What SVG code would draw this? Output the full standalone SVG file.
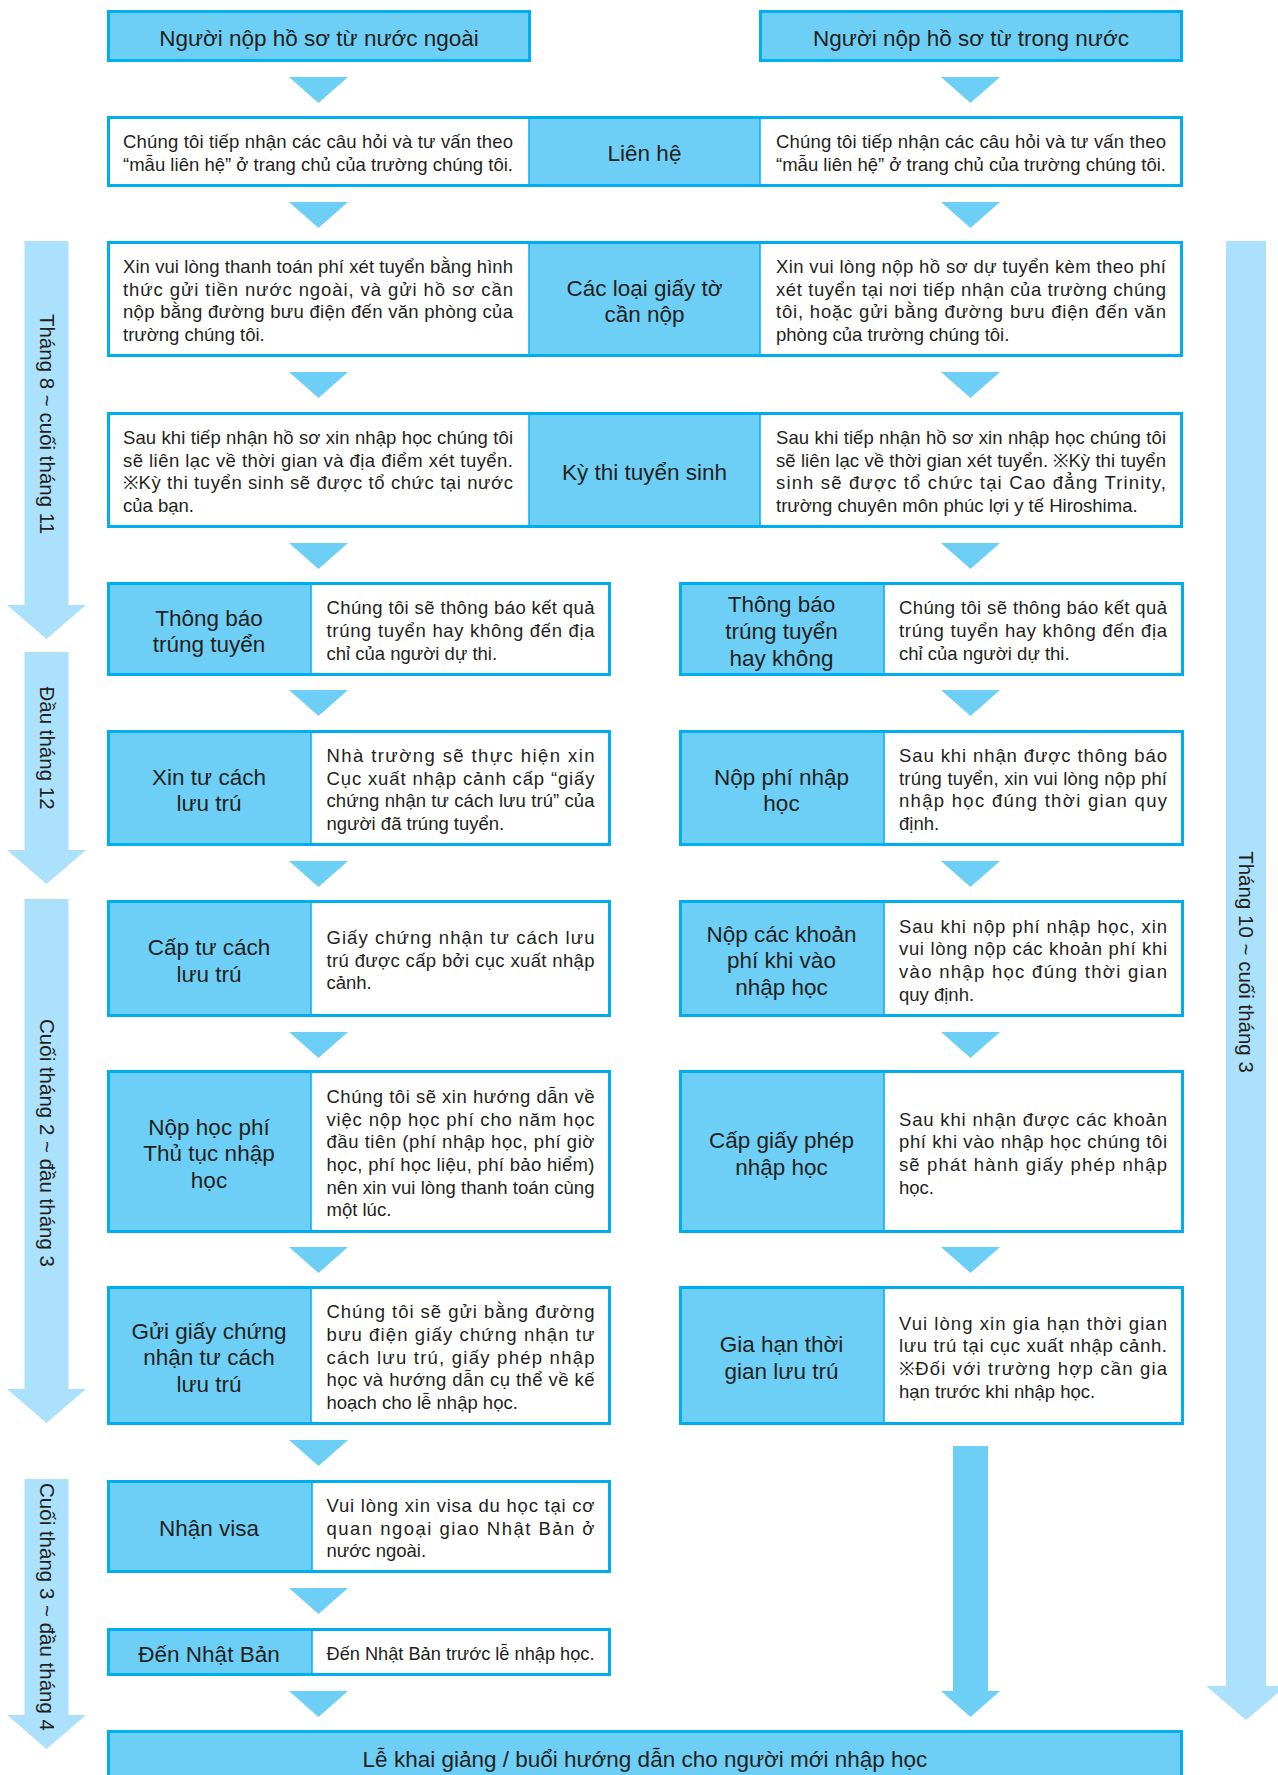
<svg xmlns="http://www.w3.org/2000/svg" xmlns:xlink="http://www.w3.org/1999/xlink" width="1278" height="1775" viewBox="0 0 1278 1775">
<style>
.bd{fill:none;stroke:#00aeef;stroke-width:3}
.wh{fill:#ffffff}
.bl{fill:#6dcff6}
.dv{stroke:#00aeef;stroke-width:1.5}
.lt{fill:#abe1fa}
.tri{fill:#6dcff6}
text{font-family:"Liberation Sans",Arial,sans-serif;fill:#231f20}
.b{font-size:18.5px;transform:translate(0px,1px)}
.l{font-size:22.5px;text-anchor:middle;transform:translate(0px,1.5px)}
.v{font-size:20.5px;text-anchor:middle}
</style>
<defs>
<path id="tri" d="M-29.5,0 L29.5,0 L0,26 Z"/>
</defs>
<rect x="0" y="0" width="1278" height="1775" fill="#ffffff"/>

<g id="timeline">
<path class="lt" d="M24.5,241 H68.5 V605 H86 L46.5,639 L7,605 H24.5 Z"/>
<path class="lt" d="M24.5,652 H68.5 V850 H86 L46.5,884 L7,850 H24.5 Z"/>
<path class="lt" d="M24.5,899 H68.5 V1389 H86 L46.5,1423 L7,1389 H24.5 Z"/>
<path class="lt" d="M24.5,1479 H68.5 V1715 H86 L46.5,1749 L7,1715 H24.5 Z"/>
<path class="lt" d="M1226,241 H1266 V1686 H1286 L1246,1720 L1206,1686 H1226 Z"/>
<text class="v" transform="translate(46.5,424) rotate(90)" y="7">Tháng 8 ~ cuối tháng 11</text>
<text class="v" transform="translate(46.5,748) rotate(90)" y="7">Đầu tháng 12</text>
<text class="v" transform="translate(46.5,1143) rotate(90)" y="7">Cuối tháng 2 ~ đầu tháng 3</text>
<text class="v" transform="translate(46.5,1607) rotate(90)" y="7">Cuối tháng 3 ~ đầu tháng 4</text>
<text class="v" transform="translate(1246,962) rotate(90)" y="7">Tháng 10 ~ cuối tháng 3</text>
</g>

<g id="connectors" class="tri">
<use xlink:href="#tri" x="318.5" y="77"/>
<use xlink:href="#tri" x="318.5" y="202"/>
<use xlink:href="#tri" x="318.5" y="372"/>
<use xlink:href="#tri" x="318.5" y="543"/>
<use xlink:href="#tri" x="318.5" y="690"/>
<use xlink:href="#tri" x="318.5" y="861"/>
<use xlink:href="#tri" x="318.5" y="1032"/>
<use xlink:href="#tri" x="318.5" y="1247"/>
<use xlink:href="#tri" x="318.5" y="1440"/>
<use xlink:href="#tri" x="318.5" y="1588"/>
<use xlink:href="#tri" x="318.5" y="1691"/>
<use xlink:href="#tri" x="970.5" y="77"/>
<use xlink:href="#tri" x="970.5" y="202"/>
<use xlink:href="#tri" x="970.5" y="372"/>
<use xlink:href="#tri" x="970.5" y="543"/>
<use xlink:href="#tri" x="970.5" y="690"/>
<use xlink:href="#tri" x="970.5" y="861"/>
<use xlink:href="#tri" x="970.5" y="1032"/>
<use xlink:href="#tri" x="970.5" y="1247"/>
<path d="M953,1446 H988 V1691 H1000 L970.5,1717 L941,1691 H953 Z"/>
</g>

<g id="start-abroad">
<rect class="bl" x="107" y="10" width="424" height="52"/>
<rect class="bd" x="108.5" y="11.5" width="421" height="49"/>
<text class="l" x="319" y="44.3">Người nộp hồ sơ từ nước ngoài</text>
</g>
<g id="start-domestic">
<rect class="bl" x="759" y="10" width="424" height="52"/>
<rect class="bd" x="760.5" y="11.5" width="421" height="49"/>
<text class="l" x="971" y="44.3">Người nộp hồ sơ từ trong nước</text>
</g>

<g id="contact">
<rect class="wh" x="107" y="116" width="1076" height="71"/>
<rect class="bl" x="529" y="116" width="231" height="71"/>
<line class="dv" x1="529" y1="116" x2="529" y2="187"/>
<line class="dv" x1="760" y1="116" x2="760" y2="187"/>
<rect class="bd" x="108.5" y="117.5" width="1073" height="68"/>
<text class="l" x="644.5" y="159.8">Liên hệ</text>
<text class="b" x="123" y="147.2" textLength="390" lengthAdjust="spacing">Chúng tôi tiếp nhận các câu hỏi và tư vấn theo</text>
<text class="b" x="123" y="169.9" textLength="390" lengthAdjust="spacing">“mẫu liên hệ” ở trang chủ của trường chúng tôi.</text>
<text class="b" x="776" y="147.2" textLength="390" lengthAdjust="spacing">Chúng tôi tiếp nhận các câu hỏi và tư vấn theo</text>
<text class="b" x="776" y="169.9" textLength="390" lengthAdjust="spacing">“mẫu liên hệ” ở trang chủ của trường chúng tôi.</text>
</g>

<g id="documents">
<rect class="wh" x="107" y="241" width="1076" height="116"/>
<rect class="bl" x="529" y="241" width="231" height="116"/>
<line class="dv" x1="529" y1="241" x2="529" y2="357"/>
<line class="dv" x1="760" y1="241" x2="760" y2="357"/>
<rect class="bd" x="108.5" y="242.5" width="1073" height="113"/>
<text class="l" x="644.5" y="294">Các loại giấy tờ</text>
<text class="l" x="644.5" y="320.7">cần nộp</text>
<text class="b" x="123" y="272" textLength="390" lengthAdjust="spacing">Xin vui lòng thanh toán phí xét tuyển bằng hình</text>
<text class="b" x="123" y="294.7" textLength="390" lengthAdjust="spacing">thức gửi tiền nước ngoài, và gửi hồ sơ cần</text>
<text class="b" x="123" y="317.4" textLength="390" lengthAdjust="spacing">nộp bằng đường bưu điện đến văn phòng của</text>
<text class="b" x="123" y="340.1">trường chúng tôi.</text>
<text class="b" x="776" y="272" textLength="390" lengthAdjust="spacing">Xin vui lòng nộp hồ sơ dự tuyển kèm theo phí</text>
<text class="b" x="776" y="294.7" textLength="390" lengthAdjust="spacing">xét tuyển tại nơi tiếp nhận của trường chúng</text>
<text class="b" x="776" y="317.4" textLength="390" lengthAdjust="spacing">tôi, hoặc gửi bằng đường bưu điện đến văn</text>
<text class="b" x="776" y="340.1">phòng của trường chúng tôi.</text>
</g>

<g id="exam">
<rect class="wh" x="107" y="412" width="1076" height="116"/>
<rect class="bl" x="529" y="412" width="231" height="116"/>
<line class="dv" x1="529" y1="412" x2="529" y2="528"/>
<line class="dv" x1="760" y1="412" x2="760" y2="528"/>
<rect class="bd" x="108.5" y="413.5" width="1073" height="113"/>
<text class="l" x="644.5" y="478.3">Kỳ thi tuyển sinh</text>
<text class="b" x="123" y="443" textLength="390" lengthAdjust="spacing">Sau khi tiếp nhận hồ sơ xin nhập học chúng tôi</text>
<text class="b" x="123" y="465.7" textLength="390" lengthAdjust="spacing">sẽ liên lạc về thời gian và địa điểm xét tuyển.</text>
<text class="b" x="123" y="488.4" textLength="390" lengthAdjust="spacing">※Kỳ thi tuyển sinh sẽ được tổ chức tại nước</text>
<text class="b" x="123" y="511.1">của bạn.</text>
<text class="b" x="776" y="443" textLength="390" lengthAdjust="spacing">Sau khi tiếp nhận hồ sơ xin nhập học chúng tôi</text>
<text class="b" x="776" y="465.7" textLength="390" lengthAdjust="spacing">sẽ liên lạc về thời gian xét tuyển. ※Kỳ thi tuyển</text>
<text class="b" x="776" y="488.4" textLength="390" lengthAdjust="spacing">sinh sẽ được tổ chức tại Cao đẳng Trinity,</text>
<text class="b" x="776" y="511.1">trường chuyên môn phúc lợi y tế Hiroshima.</text>
</g>

<g id="result-abroad">
<rect class="wh" x="107" y="582" width="504" height="94"/>
<rect class="bl" x="107" y="582" width="204" height="94"/>
<line class="dv" x1="311" y1="582" x2="311" y2="676"/>
<rect class="bd" x="108.5" y="583.5" width="501" height="91"/>
<text class="l" x="209" y="624">Thông báo</text>
<text class="l" x="209" y="650.7">trúng tuyển</text>
<text class="b" x="326.5" y="613.3" textLength="268" lengthAdjust="spacing">Chúng tôi sẽ thông báo kết quả</text>
<text class="b" x="326.5" y="636" textLength="268" lengthAdjust="spacing">trúng tuyển hay không đến địa</text>
<text class="b" x="326.5" y="658.7">chỉ của người dự thi.</text>
</g>
<g id="result-domestic">
<rect class="wh" x="679" y="582" width="505" height="94"/>
<rect class="bl" x="679" y="582" width="205" height="94"/>
<line class="dv" x1="884" y1="582" x2="884" y2="676"/>
<rect class="bd" x="680.5" y="583.5" width="502" height="91"/>
<text class="l" x="781.5" y="610.6">Thông báo</text>
<text class="l" x="781.5" y="637.3">trúng tuyển</text>
<text class="l" x="781.5" y="664">hay không</text>
<text class="b" x="899" y="613.3" textLength="268" lengthAdjust="spacing">Chúng tôi sẽ thông báo kết quả</text>
<text class="b" x="899" y="636" textLength="268" lengthAdjust="spacing">trúng tuyển hay không đến địa</text>
<text class="b" x="899" y="658.7">chỉ của người dự thi.</text>
</g>

<g id="apply-status">
<rect class="wh" x="107" y="730" width="504" height="116"/>
<rect class="bl" x="107" y="730" width="204" height="116"/>
<line class="dv" x1="311" y1="730" x2="311" y2="846"/>
<rect class="bd" x="108.5" y="731.5" width="501" height="113"/>
<text class="l" x="209" y="783">Xin tư cách</text>
<text class="l" x="209" y="809.7">lưu trú</text>
<text class="b" x="326.5" y="761" textLength="268" lengthAdjust="spacing">Nhà trường sẽ thực hiện xin</text>
<text class="b" x="326.5" y="783.7" textLength="268" lengthAdjust="spacing">Cục xuất nhập cảnh cấp “giấy</text>
<text class="b" x="326.5" y="806.4" textLength="268" lengthAdjust="spacing">chứng nhận tư cách lưu trú” của</text>
<text class="b" x="326.5" y="829.1">người đã trúng tuyển.</text>
</g>
<g id="admission-fee">
<rect class="wh" x="679" y="730" width="505" height="116"/>
<rect class="bl" x="679" y="730" width="205" height="116"/>
<line class="dv" x1="884" y1="730" x2="884" y2="846"/>
<rect class="bd" x="680.5" y="731.5" width="502" height="113"/>
<text class="l" x="781.5" y="783">Nộp phí nhập</text>
<text class="l" x="781.5" y="809.7">học</text>
<text class="b" x="899" y="761" textLength="268" lengthAdjust="spacing">Sau khi nhận được thông báo</text>
<text class="b" x="899" y="783.7" textLength="268" lengthAdjust="spacing">trúng tuyển, xin vui lòng nộp phí</text>
<text class="b" x="899" y="806.4" textLength="268" lengthAdjust="spacing">nhập học đúng thời gian quy</text>
<text class="b" x="899" y="829.1">định.</text>
</g>

<g id="status-issued">
<rect class="wh" x="107" y="900" width="504" height="117"/>
<rect class="bl" x="107" y="900" width="204" height="117"/>
<line class="dv" x1="311" y1="900" x2="311" y2="1017"/>
<rect class="bd" x="108.5" y="901.5" width="501" height="114"/>
<text class="l" x="209" y="953.5">Cấp tư cách</text>
<text class="l" x="209" y="980.2">lưu trú</text>
<text class="b" x="326.5" y="942.8" textLength="268" lengthAdjust="spacing">Giấy chứng nhận tư cách lưu</text>
<text class="b" x="326.5" y="965.5" textLength="268" lengthAdjust="spacing">trú được cấp bởi cục xuất nhập</text>
<text class="b" x="326.5" y="988.2">cảnh.</text>
</g>
<g id="entry-fees">
<rect class="wh" x="679" y="900" width="505" height="117"/>
<rect class="bl" x="679" y="900" width="205" height="117"/>
<line class="dv" x1="884" y1="900" x2="884" y2="1017"/>
<rect class="bd" x="680.5" y="901.5" width="502" height="114"/>
<text class="l" x="781.5" y="940.1">Nộp các khoản</text>
<text class="l" x="781.5" y="966.8">phí khi vào</text>
<text class="l" x="781.5" y="993.5">nhập học</text>
<text class="b" x="899" y="931.5" textLength="268" lengthAdjust="spacing">Sau khi nộp phí nhập học, xin</text>
<text class="b" x="899" y="954.2" textLength="268" lengthAdjust="spacing">vui lòng nộp các khoản phí khi</text>
<text class="b" x="899" y="976.9" textLength="268" lengthAdjust="spacing">vào nhập học đúng thời gian</text>
<text class="b" x="899" y="999.6">quy định.</text>
</g>

<g id="tuition">
<rect class="wh" x="107" y="1070" width="504" height="163"/>
<rect class="bl" x="107" y="1070" width="204" height="163"/>
<line class="dv" x1="311" y1="1070" x2="311" y2="1233"/>
<rect class="bd" x="108.5" y="1071.5" width="501" height="160"/>
<text class="l" x="209" y="1133.1">Nộp học phí</text>
<text class="l" x="209" y="1159.8">Thủ tục nhập</text>
<text class="l" x="209" y="1186.5">học</text>
<text class="b" x="326.5" y="1101.8" textLength="268" lengthAdjust="spacing">Chúng tôi sẽ xin hướng dẫn về</text>
<text class="b" x="326.5" y="1124.5" textLength="268" lengthAdjust="spacing">việc nộp học phí cho năm học</text>
<text class="b" x="326.5" y="1147.2" textLength="268" lengthAdjust="spacing">đầu tiên (phí nhập học, phí giờ</text>
<text class="b" x="326.5" y="1169.9" textLength="268" lengthAdjust="spacing">học, phí học liệu, phí bảo hiểm)</text>
<text class="b" x="326.5" y="1192.6" textLength="268" lengthAdjust="spacing">nên xin vui lòng thanh toán cùng</text>
<text class="b" x="326.5" y="1215.3">một lúc.</text>
</g>
<g id="admission-permit">
<rect class="wh" x="679" y="1070" width="505" height="163"/>
<rect class="bl" x="679" y="1070" width="205" height="163"/>
<line class="dv" x1="884" y1="1070" x2="884" y2="1233"/>
<rect class="bd" x="680.5" y="1071.5" width="502" height="160"/>
<text class="l" x="781.5" y="1146.5">Cấp giấy phép</text>
<text class="l" x="781.5" y="1173.2">nhập học</text>
<text class="b" x="899" y="1124.5" textLength="268" lengthAdjust="spacing">Sau khi nhận được các khoản</text>
<text class="b" x="899" y="1147.2" textLength="268" lengthAdjust="spacing">phí khi vào nhập học chúng tôi</text>
<text class="b" x="899" y="1169.9" textLength="268" lengthAdjust="spacing">sẽ phát hành giấy phép nhập</text>
<text class="b" x="899" y="1192.6">học.</text>
</g>

<g id="send-certificate">
<rect class="wh" x="107" y="1286" width="504" height="139"/>
<rect class="bl" x="107" y="1286" width="204" height="139"/>
<line class="dv" x1="311" y1="1286" x2="311" y2="1425"/>
<rect class="bd" x="108.5" y="1287.5" width="501" height="136"/>
<text class="l" x="209" y="1337.1">Gửi giấy chứng</text>
<text class="l" x="209" y="1363.8">nhận tư cách</text>
<text class="l" x="209" y="1390.5">lưu trú</text>
<text class="b" x="326.5" y="1317.1" textLength="268" lengthAdjust="spacing">Chúng tôi sẽ gửi bằng đường</text>
<text class="b" x="326.5" y="1339.8" textLength="268" lengthAdjust="spacing">bưu điện giấy chứng nhận tư</text>
<text class="b" x="326.5" y="1362.5" textLength="268" lengthAdjust="spacing">cách lưu trú, giấy phép nhập</text>
<text class="b" x="326.5" y="1385.2" textLength="268" lengthAdjust="spacing">học và hướng dẫn cụ thể về kế</text>
<text class="b" x="326.5" y="1407.9">hoạch cho lễ nhập học.</text>
</g>
<g id="extend-stay">
<rect class="wh" x="679" y="1286" width="505" height="139"/>
<rect class="bl" x="679" y="1286" width="205" height="139"/>
<line class="dv" x1="884" y1="1286" x2="884" y2="1425"/>
<rect class="bd" x="680.5" y="1287.5" width="502" height="136"/>
<text class="l" x="781.5" y="1350.5">Gia hạn thời</text>
<text class="l" x="781.5" y="1377.2">gian lưu trú</text>
<text class="b" x="899" y="1328.5" textLength="268" lengthAdjust="spacing">Vui lòng xin gia hạn thời gian</text>
<text class="b" x="899" y="1351.2" textLength="268" lengthAdjust="spacing">lưu trú tại cục xuất nhập cảnh.</text>
<text class="b" x="899" y="1373.9" textLength="268" lengthAdjust="spacing">※Đối với trường hợp cần gia</text>
<text class="b" x="899" y="1396.6">hạn trước khi nhập học.</text>
</g>

<g id="visa">
<rect class="wh" x="107" y="1480" width="504" height="93"/>
<rect class="bl" x="107" y="1480" width="205" height="93"/>
<line class="dv" x1="312" y1="1480" x2="312" y2="1573"/>
<rect class="bd" x="108.5" y="1481.5" width="501" height="90"/>
<text class="l" x="209" y="1534.8">Nhận visa</text>
<text class="b" x="326.5" y="1510.8" textLength="268" lengthAdjust="spacing">Vui lòng xin visa du học tại cơ</text>
<text class="b" x="326.5" y="1533.5" textLength="268" lengthAdjust="spacing">quan ngoại giao Nhật Bản ở</text>
<text class="b" x="326.5" y="1556.2">nước ngoài.</text>
</g>

<g id="arrive-japan">
<rect class="wh" x="107" y="1628" width="504" height="48"/>
<rect class="bl" x="107" y="1628" width="205" height="48"/>
<line class="dv" x1="312" y1="1628" x2="312" y2="1676"/>
<rect class="bd" x="108.5" y="1629.5" width="501" height="45"/>
<text class="l" x="209" y="1660.3">Đến Nhật Bản</text>
<text class="b" x="326.5" y="1659" textLength="268" lengthAdjust="spacingAndGlyphs">Đến Nhật Bản trước lễ nhập học.</text>
</g>

<g id="ceremony">
<rect class="bl" x="107" y="1730" width="1076" height="60"/>
<rect class="bd" x="108.5" y="1731.5" width="1073" height="60"/>
<text class="l" x="645" y="1765">Lễ khai giảng / buổi hướng dẫn cho người mới nhập học</text>
</g>
</svg>
